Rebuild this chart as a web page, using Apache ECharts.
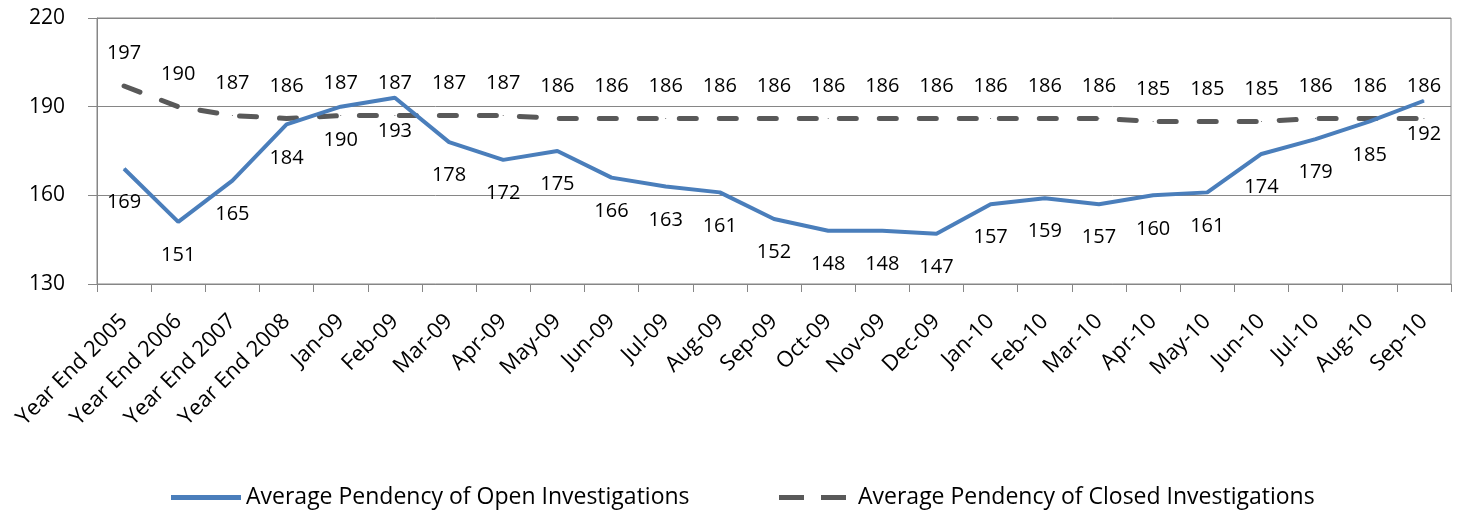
<!DOCTYPE html>
<html>
<head>
<meta charset="utf-8">
<script src="https://cdn.jsdelivr.net/npm/echarts@6/dist/echarts.min.js"></script>
<style>
    html, body {margin: 0; padding: 0; background: #fff;}
    #chart {width: 1462px; height: 512px;}
</style>
</head>
<body>
<div id="chart"></div>
<script>
const categories = [
    'Year End 2005', 'Year End 2006', 'Year End 2007', 'Year End 2008',
    'Jan-09', 'Feb-09', 'Mar-09', 'Apr-09', 'May-09', 'Jun-09', 'Jul-09', 'Aug-09',
    'Sep-09', 'Oct-09', 'Nov-09', 'Dec-09', 'Jan-10', 'Feb-10', 'Mar-10', 'Apr-10',
    'May-10', 'Jun-10', 'Jul-10', 'Aug-10', 'Sep-10'
];
const open_values = [169, 151, 165, 184, 190, 193, 178, 172, 175, 166, 163, 161, 152,
    148, 148, 147, 157, 159, 157, 160, 161, 174, 179, 185, 192];
const closed_values = [197, 190, 187, 186, 187, 187, 187, 187, 186, 186, 186, 186, 186,
    186, 186, 186, 186, 186, 186, 185, 185, 185, 186, 186, 186];
const open_name = 'Average Pendency of Open Investigations';
const closed_name = 'Average Pendency of Closed Investigations';

const FONT = '"Open Sans"';
const AXIS_GRAY = '#868686';
const OPEN_BLUE = '#4a7ebb';
const CLOSED_GRAY = '#595959';

let chart = echarts.init(document.getElementById('chart'), null, {renderer: 'canvas'});

chart.setOption({
    animation: false,
    textStyle: {fontFamily: FONT},
    grid: {
        left: 97, right: 11, top: 18, bottom: 228,
        show: true, borderColor: AXIS_GRAY, borderWidth: 1
    },
    legend: [
        {
            data: [{name: open_name, icon: 'path://M0,0 H70 V5 H0 Z'}],
            left: 166, top: 481,
            itemWidth: 70, itemHeight: 5,
            textStyle: {fontFamily: FONT, fontSize: 23, color: '#000'}
        },
        {
            data: [{name: closed_name, icon: 'path://M0,0 H25 V5 H0 Z M42,0 H67 V5 H42 Z'}],
            left: 774, top: 481,
            itemWidth: 67, itemHeight: 5,
            textStyle: {fontFamily: FONT, fontSize: 23, color: '#000', padding: [0, 0, 0, 7]}
        }
    ],
    xAxis: {
        type: 'category',
        data: categories,
        boundaryGap: true,
        axisLine: {lineStyle: {color: AXIS_GRAY, width: 1}},
        axisTick: {show: true, length: 8, alignWithLabel: false, lineStyle: {color: AXIS_GRAY}},
        axisLabel: {
            interval: 0, rotate: 45, margin: 34,
            fontFamily: FONT, fontSize: 22, color: '#000'
        },
        splitLine: {show: false}
    },
    yAxis: {
        type: 'value',
        min: 130, max: 220, interval: 30,
        axisLine: {show: true, lineStyle: {color: AXIS_GRAY, width: 1}},
        axisTick: {show: true, length: 9, lineStyle: {color: AXIS_GRAY}},
        axisLabel: {margin: 32, fontFamily: FONT, fontSize: 21, color: '#000'},
        splitLine: {show: true, lineStyle: {color: AXIS_GRAY, width: 1}}
    },
    series: [
        {
            name: open_name,
            type: 'line',
            data: open_values,
            showSymbol: true,
            showAllSymbol: true,
            symbol: 'circle',
            symbolSize: 1,
            itemStyle: {color: OPEN_BLUE},
            lineStyle: {color: OPEN_BLUE, width: 4},
            label: {
                show: true, position: 'bottom', distance: 23,
                fontFamily: FONT, fontSize: 20, color: '#000'
            },
            z: 3
        },
        {
            name: closed_name,
            type: 'line',
            data: closed_values,
            showSymbol: true,
            showAllSymbol: true,
            symbol: 'circle',
            symbolSize: 1,
            itemStyle: {color: CLOSED_GRAY},
            lineStyle: {color: CLOSED_GRAY, width: 5, type: [17, 23], cap: 'round'},
            label: {
                show: true, position: 'top', distance: 22,
                fontFamily: FONT, fontSize: 20, color: '#000'
            },
            z: 2
        }
    ]
});
</script>
</body>
</html>
